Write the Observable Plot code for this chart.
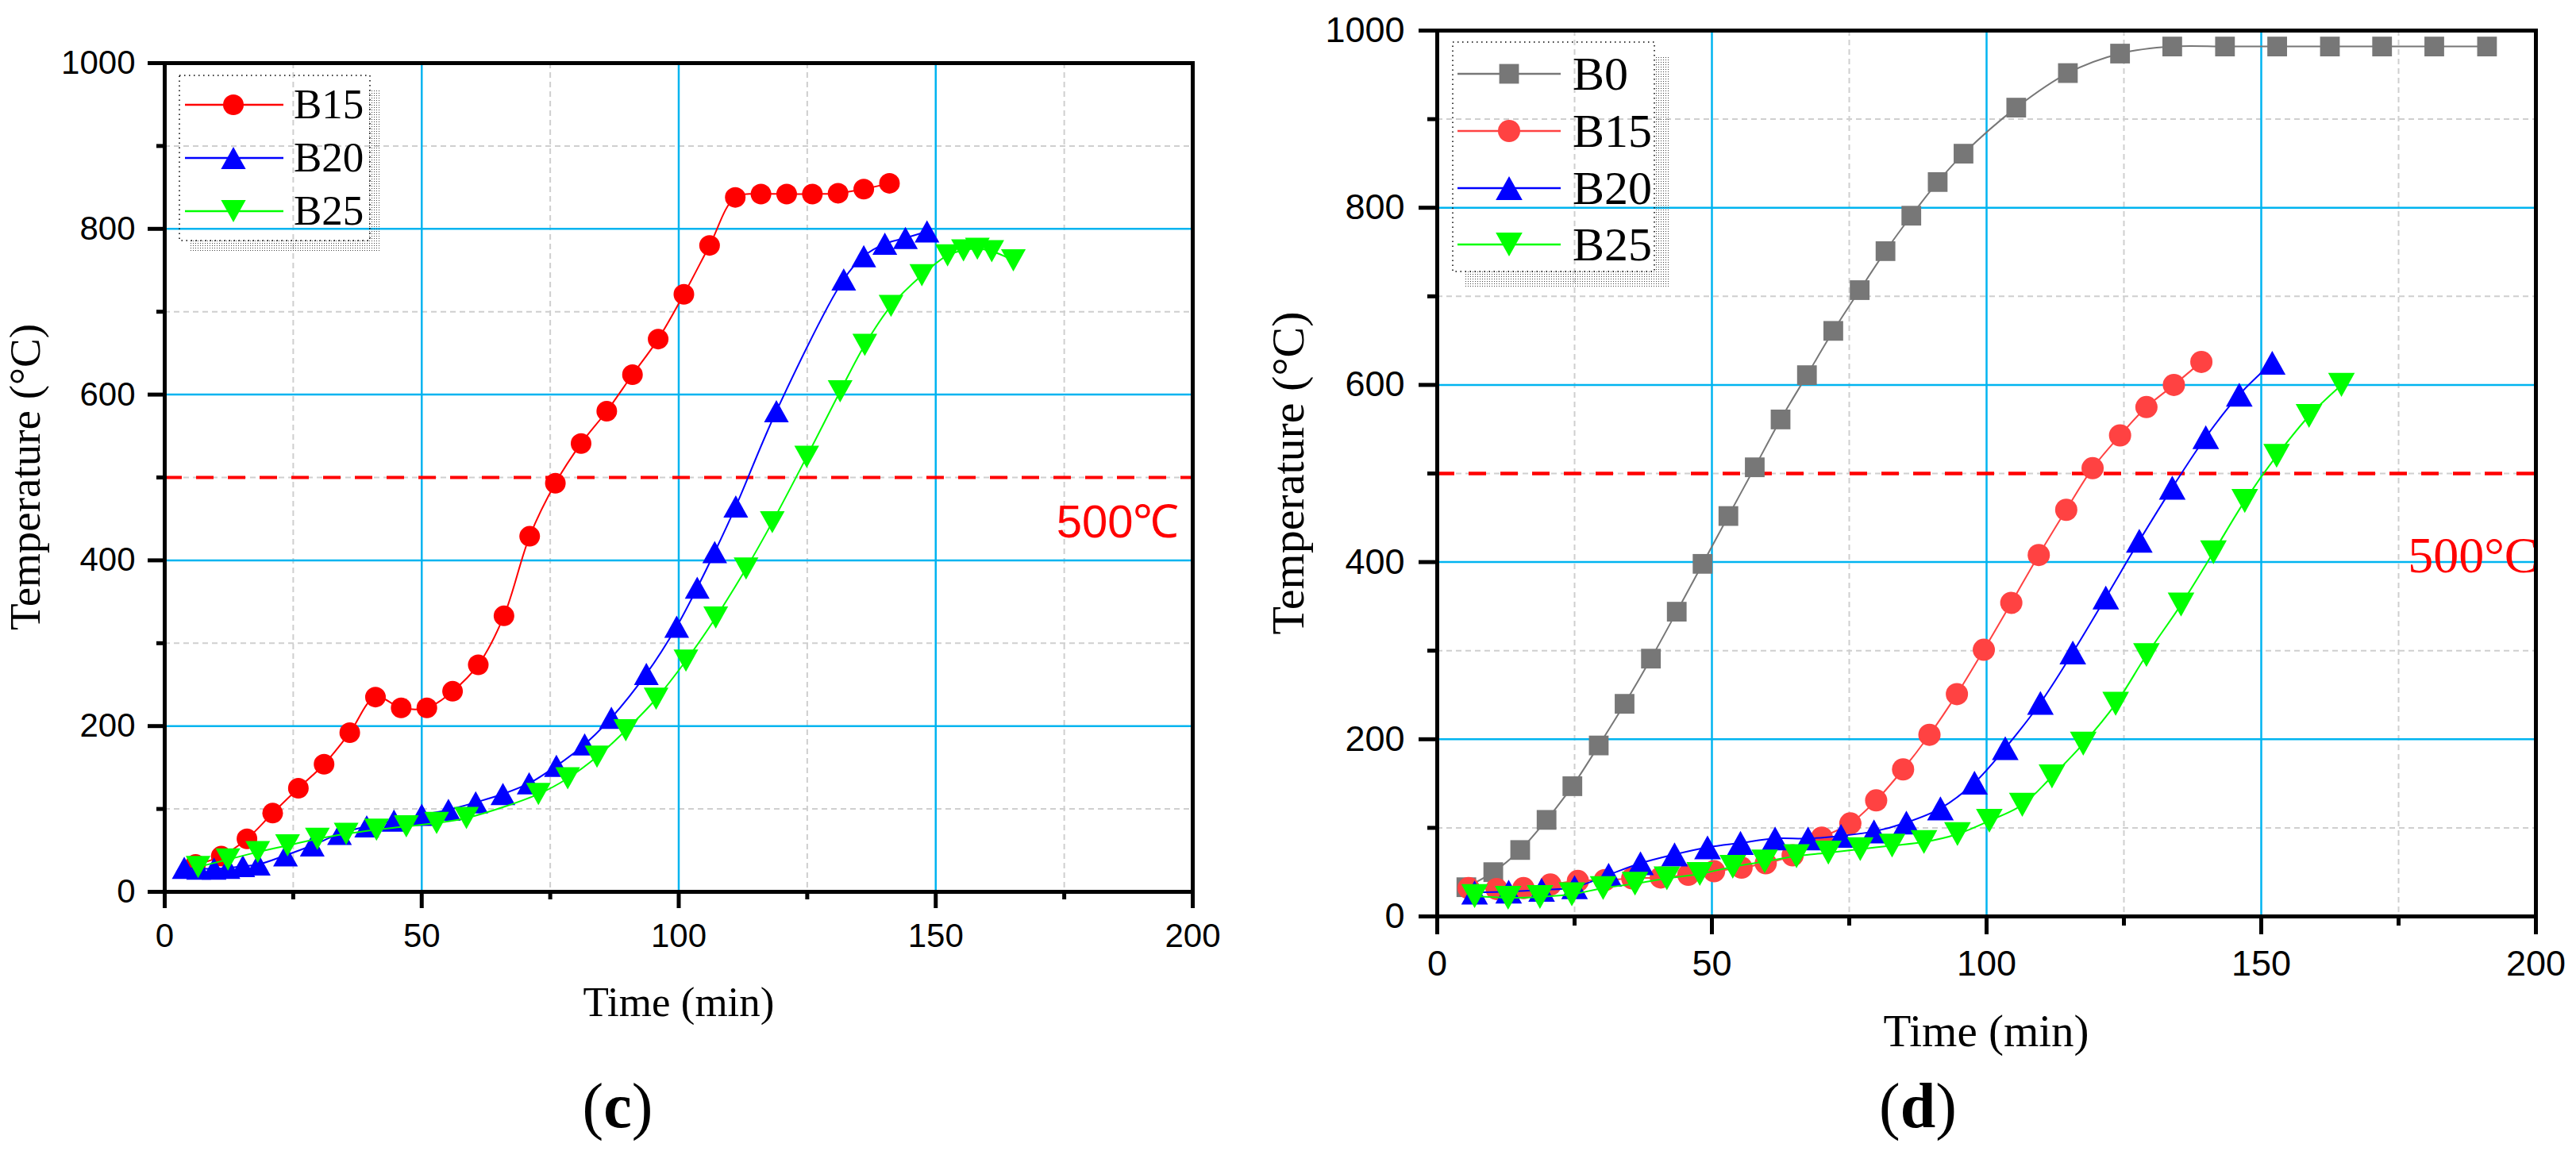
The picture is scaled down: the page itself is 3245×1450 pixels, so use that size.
<!DOCTYPE html>
<html>
<head>
<meta charset="utf-8">
<script src="https://cdn.jsdelivr.net/npm/d3@7"></script>
<script src="https://cdn.jsdelivr.net/npm/@observablehq/plot@0.6"></script>
<style>
  html, body { margin: 0; padding: 0; background: #ffffff; }
  #page { position: relative; width: 3245px; height: 1450px; overflow: hidden; background: #ffffff; }
  .panel { position: absolute; top: 0; }
  #captions { position: absolute; left: 0; top: 0; }
</style>
</head>
<body>
<div id="page">
  <div id="left" class="panel" style="left:0px"></div>
  <div id="right" class="panel" style="left:1600px"></div>
  <svg id="captions" width="3245" height="1450"></svg>
</div>
<script>
// ---------------- DATA ----------------
// Panel (c)
const cB15_t = [6,11,16,21,26,31,36,41,46,51,56,61,66,71,76,81,86,91,96,101,106,111,116,121,126,131,136,141];
const cB15_T = [33,43,64,95,125,154,192,235,222,222,242,274,333,429,493,541,580,624,667,721,780,838,842,842,842,843,848,855];
const cB20_t = [3.8,6.6,9.6,12.3,15.2,18.2,23.5,28.7,34,39.3,44.6,50,55.2,60.5,65.8,70.9,76.2,81.7,86.9,93.7,99.6,103.6,107,111.1,119,132.1,136,140.1,144.1,148.3];
const cB20_T = [29,28,28,29,31,33,44,56,70,79,86,93,99,108,118,131,152,178,210,263,320,367,410,465,580,739,767,782,789,797];
const cB25_t = [6.5,12.3,18.1,23.9,29.7,35.3,41.2,47,52.9,58.7,72.7,78.4,84.1,89.7,95.6,101.4,107.2,113.1,118.2,124.9,131.4,136.2,141.3,147.3,152.3,155.4,158.1,160.9,165.1];
const cB25_T = [30,39,48,56,64,70,75,79,83,89,118,137,163,195,233,279,331,390,446,525,604,660,707,744,768,774,776,773,762];

// Panel (d)
const dB0_t = [5.3,10.2,15.1,19.9,24.6,29.4,34.1,38.9,43.6,48.3,53,57.8,62.5,67.3,72.1,76.9,81.6,86.3,91.1,95.8,105.4,114.8,124.3,133.8,143.4,152.9,162.5,172,181.5,191.1];
const dB0_T = [33,50,75,109,147,193,240,291,344,398,452,507,561,611,661,707,751,791,829,861,913,952,974,982,982,982,982,982,982,982];
const dB15_t = [5.7,10.8,15.7,20.6,25.6,30.5,35.5,40.7,45.7,50.4,55.4,59.8,64.7,70,75.2,79.9,84.8,89.6,94.6,99.5,104.5,109.5,114.5,119.3,124.3,129.1,134.1,139.1];
const dB15_T = [32,31,32,36,40,41,43,44,47,51,55,60,69,89,105,131,166,205,251,301,354,408,459,506,543,575,600,626];
const dB20_t = [6.8,13,19,25,31.2,37,43.2,49.2,55.2,61.5,67.5,73.5,79.5,85.4,91.6,97.8,103.4,109.8,115.7,121.7,127.8,133.8,139.9,146,152];
const dB20_T = [27,28,30,33,47,60,70,78,83,88,88,91,96,106,122,151,190,241,298,360,424,484,541,589,625];
const dB25_t = [6.8,12.9,18.7,24.5,30.2,36,41.8,47.8,53.8,59.6,65.4,71.2,77,82.8,88.6,94.7,100.5,106.5,111.9,117.6,123.5,129.1,135.4,141.3,147,152.8,158.7,164.6];
const dB25_T = [23,21,22,25,32,37,43,48,56,62,68,72,76,80,84,93,108,126,158,195,240,295,352,411,469,520,565,600];

// Axes / annotation
const xDomain = [0, 200];
const yDomain = [0, 1000];
const xMajor = [0, 50, 100, 150, 200];
const xMinor = [25, 75, 125, 175];
const yMajor = [0, 200, 400, 600, 800, 1000];
const yMinor = [100, 300, 500, 700, 900];
const xGridMajor = [50, 100, 150];
const yGridMajor = [200, 400, 600, 800];
const threshold = 500;
const xLabel = "Time (min)";
const yLabel = "Temperature (°C)";

// ---------------- STYLE ----------------
const SANS = "'Liberation Sans', Arial, Helvetica, sans-serif";
const SERIF = "'Liberation Serif', 'Times New Roman', Times, serif";

const triUp = {
  draw(ctx, size) {
    const r = Math.sqrt(size / Math.PI);
    const w = 1.2 * r, h = 1.075 * r;
    ctx.moveTo(0, -h); ctx.lineTo(w, h); ctx.lineTo(-w, h); ctx.closePath();
  }
};
const triDown = {
  draw(ctx, size) {
    const r = Math.sqrt(size / Math.PI);
    const w = 1.2 * r, h = 1.075 * r;
    ctx.moveTo(0, h); ctx.lineTo(w, -h); ctx.lineTo(-w, -h); ctx.closePath();
  }
};
const squareSym = d3.symbolSquare;
const circleSym = d3.symbolCircle;

const seriesC = [
  {name: "B15", t: cB15_t, T: cB15_T, color: "#ff0000", symbol: circleSym},
  {name: "B20", t: cB20_t, T: cB20_T, color: "#0000ff", symbol: triUp},
  {name: "B25", t: cB25_t, T: cB25_T, color: "#00ff00", symbol: triDown}
];
const seriesD = [
  {name: "B0", t: dB0_t, T: dB0_T, color: "#777777", symbol: squareSym},
  {name: "B15", t: dB15_t, T: dB15_T, color: "#ff4242", symbol: circleSym},
  {name: "B20", t: dB20_t, T: dB20_T, color: "#0000ff", symbol: triUp},
  {name: "B25", t: dB25_t, T: dB25_T, color: "#00ff00", symbol: triDown}
];

function rows(s) { return s.t.map((t, i) => ({series: s.name, t, T: s.T[i]})); }

function panel(cfg) {
  const marks = [
    Plot.gridX(xMinor, {stroke: "#cfcfcf", strokeOpacity: 1, strokeWidth: 2, strokeDasharray: "7,5"}),
    Plot.gridY(yMinor, {stroke: "#cfcfcf", strokeOpacity: 1, strokeWidth: 2, strokeDasharray: "7,5"}),
    Plot.gridX(xGridMajor, {stroke: "#00b4f0", strokeOpacity: 1, strokeWidth: 2.5}),
    Plot.gridY(yGridMajor, {stroke: "#00b4f0", strokeOpacity: 1, strokeWidth: 2.5}),
    Plot.ruleY([threshold], {stroke: "#ff0000", strokeWidth: cfg.ruleW, strokeDasharray: "22,18"})
  ];
  for (const s of cfg.series) {
    const data = rows(s);
    marks.push(Plot.line(data, {x: "t", y: "T", stroke: s.color, strokeWidth: 2, curve: "catmull-rom"}));
    marks.push(Plot.dot(data, {x: "t", y: "T", fill: s.color, stroke: "none", r: cfg.r, symbol: s.symbol}));
  }
  marks.push(Plot.text([threshold], {
    y: d => d, frameAnchor: "right", text: () => cfg.thrText, textAnchor: "end",
    lineAnchor: "bottom", dx: cfg.thrDx, dy: cfg.thrDy, fill: "#ff0000",
    fontSize: cfg.thrFont, fontFamily: cfg.thrFamily
  }));
  marks.push(Plot.frame({stroke: "#000", strokeWidth: 5}));
  marks.push(Plot.axisX(xMajor, {tickSize: cfg.majTick, tickPadding: cfg.xPad, fontSize: cfg.tickFont, fontFamily: SANS, strokeWidth: 5, label: null, tickFormat: d => String(d)}));
  marks.push(Plot.axisX(xMinor, {tickSize: cfg.minTick, tickFormat: () => "", strokeWidth: 5, label: null}));
  marks.push(Plot.axisY(yMajor, {tickSize: cfg.majTick, tickPadding: cfg.yPad, fontSize: cfg.tickFont, fontFamily: SANS, strokeWidth: 5, label: null, tickFormat: d => String(d)}));
  marks.push(Plot.axisY(yMinor, {tickSize: cfg.minTick, tickFormat: () => "", strokeWidth: 5, label: null}));

  const svg = Plot.plot({
    width: cfg.w, height: cfg.h,
    marginLeft: cfg.ml, marginRight: cfg.mr, marginTop: cfg.mt, marginBottom: cfg.mb,
    x: {domain: xDomain}, y: {domain: yDomain},
    style: {background: "transparent", overflow: "visible", color: "#000"},
    marks
  });

  const g = d3.select(svg);
  // axis labels
  g.append("text")
    .attr("transform", `translate(${cfg.yLabX},${cfg.yLabY}) rotate(-90)`)
    .attr("text-anchor", "middle")
    .attr("font-family", SERIF).attr("font-size", cfg.yLabFont).attr("fill", "#000")
    .text(yLabel);
  g.append("text")
    .attr("x", cfg.xLabX).attr("y", cfg.xLabY)
    .attr("text-anchor", "middle")
    .attr("font-family", SERIF).attr("font-size", cfg.xLabFont).attr("fill", "#000")
    .text(xLabel);

  // legend
  const L = cfg.legend;
  const pid = "dots-" + cfg.id;
  const defs = g.append("defs");
  const pat = defs.append("pattern").attr("id", pid).attr("width", 3).attr("height", 3).attr("patternUnits", "userSpaceOnUse");
  pat.append("rect").attr("width", 1).attr("height", 1).attr("fill", "#444");
  const lg = g.append("g").attr("text-anchor", "start");
  lg.append("rect").attr("x", L.sx[0]).attr("y", L.sx[1]).attr("width", L.sx[2]).attr("height", L.sx[3]).attr("fill", `url(#${pid})`);
  lg.append("rect").attr("x", L.sy[0]).attr("y", L.sy[1]).attr("width", L.sy[2]).attr("height", L.sy[3]).attr("fill", `url(#${pid})`);
  lg.append("rect").attr("x", L.box[0]).attr("y", L.box[1]).attr("width", L.box[2] - L.box[0]).attr("height", L.box[3] - L.box[1])
    .attr("fill", "none").attr("stroke", "#000").attr("stroke-width", 1.5).attr("stroke-dasharray", "1.5,4.5");
  cfg.series.forEach((s, i) => {
    const y = L.rows[i];
    lg.append("line").attr("x1", L.lx[0]).attr("x2", L.lx[1]).attr("y1", y).attr("y2", y)
      .attr("stroke", s.color).attr("stroke-width", 2.5);
    lg.append("path").attr("transform", `translate(${L.mx},${y})`)
      .attr("d", d3.symbol(s.symbol, Math.PI * cfg.r * cfg.r)()).attr("fill", s.color);
    lg.append("text").attr("x", L.tx).attr("y", y).attr("dy", "0.33em")
      .attr("text-anchor", "start")
      .attr("font-family", SERIF).attr("font-size", L.font).attr("fill", "#000").text(s.name);
  });
  return svg;
}

const left = panel({
  id: "c", series: seriesC,
  w: 1600, h: 1340, ml: 207, mr: 98, mt: 79, mb: 217,
  tickFont: 42, majTick: 21, minTick: 10, xPad: 19, yPad: 16, r: 13, ruleW: 4,
  thrText: "500℃", thrFont: 58, thrFamily: SANS, thrDx: -17, thrDy: 75,
  yLabX: 50, yLabY: 601, yLabFont: 55,
  xLabX: 855, xLabY: 1280, xLabFont: 53,
  legend: {box: [226, 95, 466, 303], sx: [465, 112, 15, 205], sy: [240, 302, 240, 15],
           lx: [233, 357], mx: 294, tx: 370, rows: [132, 199, 266], font: 53}
});
document.getElementById("left").appendChild(left);

const right = panel({
  id: "d", series: seriesD,
  w: 1645, h: 1340, ml: 210, mr: 51, mt: 38, mb: 186,
  tickFont: 45, majTick: 23, minTick: 12, xPad: 20, yPad: 18, r: 14, ruleW: 4.5,
  thrText: "500°C", thrFont: 64, thrFamily: SERIF, thrDx: 3, thrDy: 124,
  yLabX: 42, yLabY: 596, yLabFont: 58,
  xLabX: 902, xLabY: 1318, xLabFont: 57,
  legend: {box: [230, 53, 484, 342], sx: [484, 72, 18, 291], sy: [244, 342, 258, 21],
           lx: [236, 366], mx: 301, tx: 381, rows: [93, 165, 237, 308], font: 60}
});
document.getElementById("right").appendChild(right);

// captions
const cap = d3.select("#captions");
[["c", 778], ["d", 2416]].forEach(([letter, cx]) => {
  const t = cap.append("text").attr("x", cx).attr("y", 1420).attr("text-anchor", "middle")
    .attr("font-family", SERIF).attr("font-size", 80).attr("fill", "#000");
  t.append("tspan").text("(");
  t.append("tspan").attr("font-weight", "bold").text(letter);
  t.append("tspan").text(")");
});
</script>
</body>
</html>
